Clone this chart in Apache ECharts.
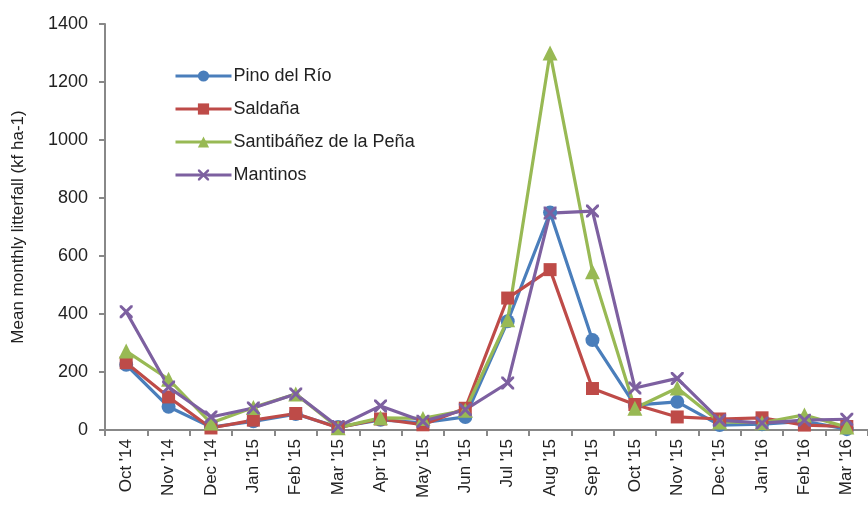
<!DOCTYPE html>
<html>
<head>
<meta charset="utf-8">
<script src="https://cdn.jsdelivr.net/npm/echarts@6/dist/echarts.min.js"></script>
<style>
  html, body { margin: 0; padding: 0; background: #fff; }
  #chart { width: 868px; height: 516px; }
</style>
</head>
<body>
<div id="chart"></div>
<script>
const months = ["Oct '14", "Nov '14", "Dec '14", "Jan '15", "Feb '15", "Mar '15", "Apr '15", "May '15", "Jun '15",
  "Jul '15", "Aug '15", "Sep '15", "Oct '15", "Nov '15", "Dec '15", "Jan '16", "Feb '16", "Mar '16"];
const pinoDelRio = [225, 80, 10, 30, 55, 10, 35, 25, 45, 375, 750, 310, 86, 97, 17, 20, 30, 3];
const saldana = [232, 114, 7, 34, 57, 8, 38, 18, 75, 455, 553, 143, 88, 45, 38, 42, 17, 12];
const santibanez = [272, 175, 24, 78, 124, 8, 42, 40, 68, 380, 1300, 546, 75, 145, 28, 25, 52, 10];
const mantinos = [408, 148, 45, 76, 124, 12, 83, 30, 70, 162, 748, 755, 145, 178, 34, 24, 34, 37];
const yTicks = [0, 200, 400, 600, 800, 1000, 1200, 1400];

const crossPath = "path://M0,0 L1.6,0 L5,3.4 L8.4,0 L10,0 L10,1.6 L6.6,5 L10,8.4 L10,10 L8.4,10 L5,6.6 L1.6,10 L0,10 L0,8.4 L3.4,5 L0,1.6 Z";
const font = "Liberation Sans";

const chart = echarts.init(document.getElementById("chart"));

function makeSeries(name, data, color, symbol, size) {
  return {
    name: name,
    type: "line",
    data: data,
    symbol: symbol,
    symbolSize: size,
    showAllSymbol: true,
    lineStyle: { color: color, width: 3.2 },
    itemStyle: { color: color, borderWidth: 0 },
    emphasis: { disabled: true },
  };
}

const option = {
  animation: false,
  textStyle: { fontFamily: font },
  legend: {
    orient: "vertical",
    left: 169,
    top: 62,
    itemWidth: 56,
    itemHeight: 14,
    itemGap: 15,
    lineStyle: { width: 3 },
    textStyle: { color: "#222", fontSize: 18, fontFamily: font, padding: [0, 0, 0, -3] },
    data: ["Pino del Río", "Saldaña", "Santibáñez de la Peña", "Mantinos"],
  },
  grid: {
    left: 105,
    right: -6,
    top: 24,
    bottom: 86,
  },
  xAxis: {
    type: "category",
    data: months,
    boundaryGap: true,
    axisLine: { lineStyle: { color: "#888", width: 2 } },
    axisTick: { show: true, length: 6, lineStyle: { color: "#888", width: 2 } },
    axisLabel: {
      rotate: 90,
      interval: 0,
      margin: 9,
      color: "#222",
      fontSize: 17,
      fontFamily: font,
    },
  },
  yAxis: {
    type: "value",
    min: 0,
    max: 1400,
    interval: 200,
    name: "Mean monthly litterfall (kf ha-1)",
    nameLocation: "middle",
    nameGap: 78,
    nameTextStyle: { color: "#222", fontSize: 17, fontFamily: font },
    axisLine: { show: true, lineStyle: { color: "#888", width: 2 } },
    axisTick: { show: true, length: 6, lineStyle: { color: "#888", width: 2 } },
    axisLabel: {
      margin: 17,
      color: "#222",
      fontSize: 18,
      fontFamily: font,
      formatter: (v) => (yTicks.includes(v) ? String(v) : ""),
    },
    splitLine: { show: false },
  },
  series: [
    makeSeries("Pino del Río", pinoDelRio, "#4a7ebb", "circle", 14),
    makeSeries("Saldaña", saldana, "#be4b48", "rect", 13),
    makeSeries("Santibáñez de la Peña", santibanez, "#98b954", "triangle", 15),
    makeSeries("Mantinos", mantinos, "#7d60a0", crossPath, 13),
  ],
};

chart.setOption(option);
</script>
</body>
</html>
